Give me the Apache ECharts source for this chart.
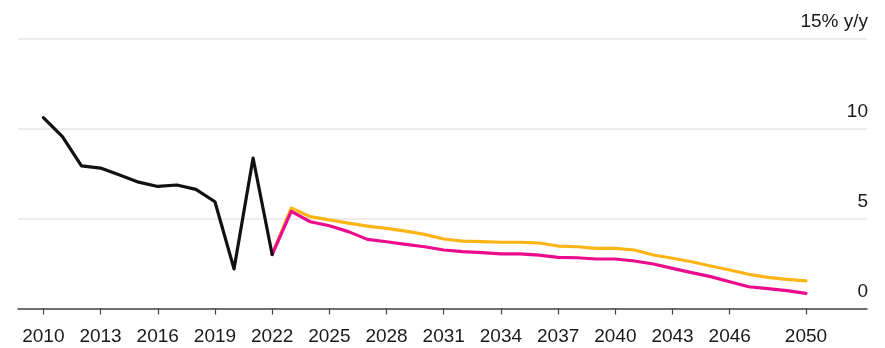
<!DOCTYPE html>
<html>
<head>
<meta charset="utf-8">
<script src="https://cdn.jsdelivr.net/npm/echarts@6/dist/echarts.min.js"></script>
<style>
  html, body { margin: 0; padding: 0; background: #ffffff; }
  #chart { width: 885px; height: 348px; }
</style>
</head>
<body>
<div id="chart"></div>
<script>
// Historical growth, % y/y
const histYears = [2010, 2011, 2012, 2013, 2014, 2015, 2016, 2017, 2018, 2019, 2020, 2021, 2022];
const histValues = [10.6, 9.55, 7.92, 7.8, 7.42, 7.02, 6.78, 6.86, 6.62, 5.93, 2.2, 8.36, 3.0];

// Projections from 2022 onward
const projYears = [2022, 2023, 2024, 2025, 2026, 2027, 2028, 2029, 2030, 2031, 2032, 2033, 2034, 2035, 2036,
                   2037, 2038, 2039, 2040, 2041, 2042, 2043, 2044, 2045, 2046, 2047, 2048, 2049, 2050];
const upperValues = [3.0, 5.58, 5.1, 4.92, 4.74, 4.58, 4.45, 4.3, 4.12, 3.86, 3.74, 3.71, 3.68, 3.68, 3.64,
                     3.47, 3.43, 3.34, 3.34, 3.25, 2.97, 2.79, 2.6, 2.36, 2.14, 1.9, 1.73, 1.62, 1.53];
const lowerValues = [3.0, 5.4, 4.82, 4.6, 4.27, 3.84, 3.71, 3.56, 3.43, 3.25, 3.16, 3.1, 3.03, 3.03, 2.97,
                     2.84, 2.82, 2.75, 2.75, 2.64, 2.47, 2.23, 1.99, 1.77, 1.49, 1.21, 1.1, 0.99, 0.84];

// Axis labels
const xTickYears = [2010, 2013, 2016, 2019, 2022, 2025, 2028, 2031, 2034, 2037, 2040, 2043, 2046, 2050];
const yTopLabel = '15% y/y';

const pairs = (xs, ys) => xs.map((x, i) => [x, ys[i]]);

const chart = echarts.init(document.getElementById('chart'), null, { renderer: 'canvas' });

const labelFont = 'Liberation Sans, Arial, Helvetica, sans-serif';

chart.setOption({
  animation: false,
  backgroundColor: '#ffffff',
  grid: { left: 18, right: 18, top: 38.5, bottom: 39.5, containLabel: false },
  xAxis: {
    type: 'value',
    min: 2008.67,
    max: 2053.2,
    splitLine: { show: false },
    axisLine: { show: true, lineStyle: { color: '#444444', width: 1.5 } },
    axisTick: {
      show: true,
      customValues: xTickYears,
      length: 6,
      lineStyle: { color: '#444444', width: 1.2 }
    },
    axisLabel: {
      show: true,
      customValues: xTickYears,
      formatter: v => String(v),
      color: '#1a1a1a',
      fontFamily: labelFont,
      fontSize: 19,
      margin: 19
    }
  },
  yAxis: {
    type: 'value',
    position: 'right',
    min: 0,
    max: 15,
    interval: 5,
    axisLine: { show: false },
    axisTick: { show: false },
    splitLine: { show: true, lineStyle: { color: '#e6e6e6', width: 1.5 } },
    axisLabel: {
      inside: true,
      margin: -1,
      align: 'right',
      verticalAlign: 'bottom',
      padding: [0, 0, 7, 0],
      color: '#1a1a1a',
      fontFamily: labelFont,
      fontSize: 19,
      formatter: v => (v === 15 ? yTopLabel : String(v))
    }
  },
  series: [
    {
      name: 'upper',
      type: 'line',
      data: pairs(projYears, upperValues),
      showSymbol: false,
      lineStyle: { color: '#fdb515', width: 3.2, join: 'round', cap: 'round' },
      z: 2
    },
    {
      name: 'lower',
      type: 'line',
      data: pairs(projYears, lowerValues),
      showSymbol: false,
      lineStyle: { color: '#ec0b8c', width: 3.2, join: 'round', cap: 'round' },
      z: 3
    },
    {
      name: 'history',
      type: 'line',
      data: pairs(histYears, histValues),
      showSymbol: false,
      lineStyle: { color: '#111111', width: 3.2, join: 'round', cap: 'round' },
      z: 4
    }
  ]
});
</script>
</body>
</html>
